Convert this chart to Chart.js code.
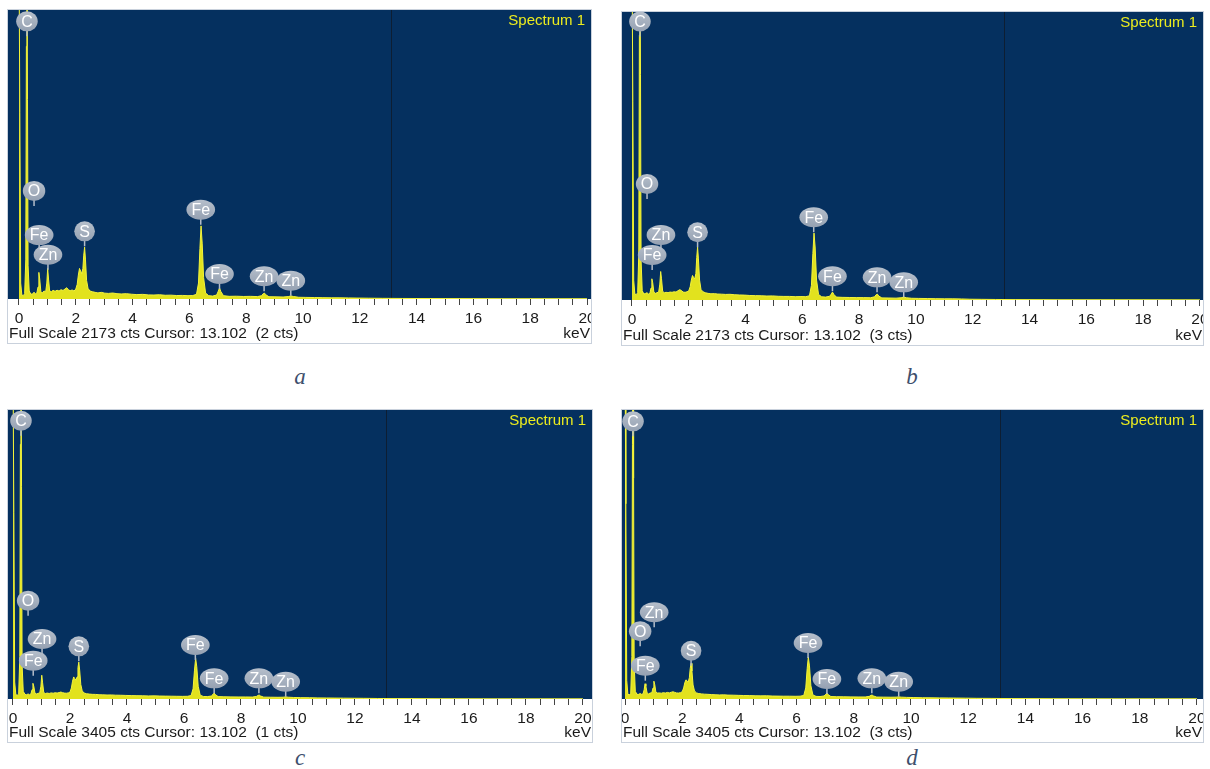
<!DOCTYPE html>
<html>
<head>
<meta charset="utf-8">
<script src="https://cdn.jsdelivr.net/npm/chart.js@4.4.1/dist/chart.umd.min.js"></script>
<style>
  body { margin: 0; background: #fff; width: 1210px; height: 769px; position: relative; overflow: hidden; }
  .panel { position: absolute; border: 1px solid #c9d1dc; }
  .panel canvas { display: block; }
  .cap { position: absolute; width: 40px; text-align: center; line-height: 26px;
         font-family: 'Liberation Serif', 'DejaVu Serif', serif; font-style: italic; font-size: 23px; color: #3e4f6d; }
</style>
</head>
<body>
<div class="panel" style="left:7px;top:9px"><canvas id="ca" width="583" height="333"></canvas></div>
<div class="panel" style="left:621px;top:11px"><canvas id="cb" width="581" height="333"></canvas></div>
<div class="panel" style="left:7px;top:409px"><canvas id="cc" width="584" height="332"></canvas></div>
<div class="panel" style="left:621px;top:409px"><canvas id="cd" width="581" height="332"></canvas></div>
<div class="cap" style="left:280px;top:364px">a</div>
<div class="cap" style="left:892px;top:364px">b</div>
<div class="cap" style="left:280px;top:745px">c</div>
<div class="cap" style="left:892px;top:745px">d</div>
<script>
// energy channels (keV), shared by the four spectra
const energyKeV = [
  0.00, 0.03, 0.06, 0.10, 0.15, 0.20, 0.24, 0.26, 0.28, 0.30, 0.32, 0.36, 0.42, 0.48,
  0.53, 0.58, 0.63, 0.67, 0.70, 0.73, 0.77, 0.82, 0.88, 0.94, 0.98, 1.01, 1.04, 1.08, 1.14, 1.20,
  1.27, 1.34, 1.41, 1.48, 1.55, 1.62, 1.68, 1.74, 1.80, 1.87, 1.94, 2.00,
  2.05, 2.09, 2.13, 2.17, 2.21, 2.25, 2.28, 2.31, 2.34, 2.38, 2.43, 2.50, 2.58,
  2.68, 2.78, 2.90, 3.02, 3.15, 3.30, 3.45, 3.60, 3.78, 3.96, 4.15, 4.35, 4.55, 4.75, 4.95, 5.15, 5.35, 5.55, 5.75, 5.95, 6.12,
  6.25, 6.32, 6.37, 6.41, 6.45, 6.50, 6.57, 6.68,
  6.82, 6.96, 7.02, 7.06, 7.11, 7.20, 7.40, 7.65, 7.90, 8.15, 8.40,
  8.54, 8.60, 8.64, 8.69, 8.80, 9.05, 9.30,
  9.48, 9.57, 9.66, 9.85, 10.1, 10.4, 10.7, 11.0, 11.3, 11.6, 11.9, 12.3, 12.8, 13.5, 15, 17, 20
];

// counts per channel, spectra a-d
const countsA = [
  2600, 1400, 120, 30, 25, 40, 300, 1900, 2700, 1500, 250, 60, 35, 40,
  50, 40, 45, 90, 200, 150, 55, 45, 60, 55, 120, 230, 150, 60, 55, 65,
  58, 66, 60, 70, 64, 75, 85, 70, 62, 68, 60, 75,
  110, 180, 230, 210, 190, 230, 330, 390, 300, 140, 80, 60, 55,
  50, 46, 50, 44, 42, 45, 40, 38, 40, 36, 33, 35, 31, 30, 32, 28, 29, 26, 27, 25, 26,
  35, 120, 380, 550, 420, 160, 45, 25,
  22, 30, 60, 83, 55, 25, 20, 21, 19, 20, 18,
  25, 40, 45, 32, 17, 16, 15,
  18, 23, 19, 13, 12, 11, 10, 9, 9, 8, 7, 6, 5, 4, 3, 2, 2
];
const countsB = [
  2600, 1500, 150, 45, 40, 55, 350, 2000, 2700, 1700, 300, 70, 45, 50,
  55, 45, 50, 90, 160, 130, 60, 50, 55, 60, 120, 215, 160, 65, 55, 58,
  55, 60, 58, 62, 60, 70, 78, 72, 60, 58, 62, 70,
  100, 150, 185, 170, 160, 200, 320, 400, 310, 150, 80, 62, 55,
  50, 47, 48, 45, 44, 42, 43, 40, 38, 37, 34, 33, 32, 30, 31, 28, 27, 27, 25, 26, 25,
  32, 110, 350, 505, 400, 150, 42, 24,
  22, 28, 45, 60, 42, 22, 20, 19, 18, 18, 17,
  24, 40, 45, 30, 16, 15, 14,
  17, 22, 17, 13, 12, 11, 10, 9, 9, 8, 6, 5, 4, 3, 2, 2, 1
];
const countsC = [
  4000, 2200, 200, 50, 45, 60, 500, 3000, 4200, 2500, 400, 90, 55, 50,
  60, 50, 60, 110, 185, 150, 70, 60, 65, 75, 150, 280, 190, 75, 65, 70,
  65, 72, 68, 74, 70, 76, 82, 75, 70, 68, 72, 80,
  130, 210, 260, 240, 220, 260, 370, 435, 340, 170, 95, 70, 62,
  58, 55, 54, 50, 49, 47, 48, 45, 44, 42, 40, 39, 38, 36, 37, 35, 34, 33, 32, 31, 32,
  40, 120, 340, 480, 380, 150, 45, 30,
  28, 35, 55, 70, 50, 28, 26, 25, 24, 24, 23,
  30, 42, 47, 35, 22, 21, 20,
  21, 25, 21, 18, 16, 15, 13, 12, 11, 10, 9, 8, 6, 5, 3, 2, 2
];
const countsD = [
  4000, 2300, 220, 55, 50, 65, 500, 3000, 4200, 2600, 420, 90, 55, 55,
  65, 55, 60, 110, 180, 150, 75, 60, 70, 75, 130, 210, 170, 80, 70, 72,
  68, 75, 70, 78, 72, 80, 85, 78, 72, 70, 75, 85,
  130, 190, 225, 215, 200, 250, 360, 420, 330, 165, 95, 72, 64,
  60, 57, 55, 52, 50, 48, 49, 46, 45, 43, 41, 40, 38, 37, 38, 35, 34, 33, 33, 32, 33,
  42, 130, 360, 495, 390, 155, 48, 31,
  29, 36, 56, 70, 50, 29, 27, 26, 25, 24, 24,
  31, 43, 47, 36, 23, 22, 21,
  22, 25, 22, 19, 17, 15, 14, 13, 12, 11, 10, 8, 7, 5, 3, 2, 2
];

// peak tags: element, line energy, height of the tag's pin (cts)
const peakNames = ['C', 'O', 'Fe', 'Zn', 'S', 'Fe', 'Fe', 'Zn', 'Zn'];
const peakKeV = [0.28, 0.53, 0.71, 1.02, 2.31, 6.40, 7.06, 8.63, 9.57];
const tagA = [1975, 700, 368, 220, 396, 559, 75, 58, 25];
const tagB = [1988, 762, 226, 378, 398, 511, 66, 58, 20];
const tagC = [3102, 981, 275, 530, 444, 459, 67, 67, 27];
const tagD = [3095, 621, 216, 845, 392, 483, 59, 67, 27];

const tickLabels = [0, 2, 4, 6, 8, 10, 12, 14, 16, 18, 20];
const fullScale = [2173, 2173, 3405, 3405];
const cursorCts = [2, 3, 1, 3];
const cursorKeV = 13.102;

const FONT = '"Liberation Sans", Arial, sans-serif';

const panels = [
  { id: 'ca', counts: countsA, tags: tagA, min: -0.387, max: 20.14, axisH: 44 },
  { id: 'cb', counts: countsB, tags: tagB, min: -0.352, max: 20.11, axisH: 45 },
  { id: 'cc', counts: countsC, tags: tagC, min: -0.175, max: 20.32, axisH: 43 },
  { id: 'cd', counts: countsD, tags: tagD, min: -0.105, max: 20.21, axisH: 43 }
];

const edsPlugin = {
  id: 'eds',
  beforeDraw(chart) {
    const { ctx, chartArea: a } = chart;
    ctx.save();
    ctx.fillStyle = '#fff';
    ctx.fillRect(0, 0, chart.width, chart.height);
    ctx.fillStyle = '#05305f';
    ctx.fillRect(a.left, a.top, a.right - a.left, a.bottom - a.top);
    // cursor
    const cx = Math.round(chart.scales.x.getPixelForValue(cursorKeV)) + 0.5;
    ctx.strokeStyle = '#0d1e33';
    ctx.lineWidth = 1;
    ctx.beginPath();
    ctx.moveTo(cx, a.top);
    ctx.lineTo(cx, a.bottom);
    ctx.stroke();
    ctx.restore();
  },
  afterDraw(chart, args, o) {
    const { ctx, chartArea: a } = chart;
    const xs = chart.scales.x, ys = chart.scales.y;
    ctx.save();
    // peak tags
    ctx.font = '16px ' + FONT;
    ctx.textAlign = 'center';
    ctx.textBaseline = 'middle';
    peakNames.forEach((name, i) => {
      const x = xs.getPixelForValue(peakKeV[i]);
      const yb = ys.getPixelForValue(o.tags[i]);
      const tw = ctx.measureText(name).width;
      const rx = Math.max(tw / 2 + 5, 10), ry = 10;
      const cy = yb - 5 - ry;
      ctx.strokeStyle = '#b4bdc9';
      ctx.lineWidth = 1.5;
      ctx.beginPath();
      ctx.moveTo(x, cy + ry - 1);
      ctx.lineTo(x, yb);
      ctx.stroke();
      const g = ctx.createLinearGradient(0, cy - ry, 0, cy + ry);
      g.addColorStop(0, '#b6bfcb');
      g.addColorStop(1, '#95a1b2');
      ctx.fillStyle = g;
      ctx.beginPath();
      ctx.ellipse(x, cy, rx, ry, 0, 0, Math.PI * 2);
      ctx.fill();
      ctx.fillStyle = '#fff';
      ctx.fillText(name, x, cy + 1);
    });
    // title
    ctx.font = '15px ' + FONT;
    ctx.fillStyle = '#ecec1e';
    ctx.textAlign = 'right';
    ctx.fillText('Spectrum 1', a.right - 6, a.top + 11);
    // status line
    ctx.fillStyle = '#1a1a1a';
    ctx.font = '15.5px ' + FONT;
    ctx.textAlign = 'left';
    const y = chart.height - 9;
    ctx.fillText('Full Scale ' + o.full + ' cts Cursor: ' + cursorKeV.toFixed(3) + '  (' + o.cur + ' cts)', 1, y);
    ctx.textAlign = 'right';
    ctx.fillText('keV', chart.width - 1, y);
    ctx.restore();
  }
};

panels.forEach((p, k) => {
  const ctx = document.getElementById(p.id).getContext('2d');
  new Chart(ctx, {
    type: 'line',
    data: {
      datasets: [{
        data: energyKeV.map((e, i) => ({ x: e, y: p.counts[i] })),
        borderColor: '#f4f43a',
        backgroundColor: '#e2e21e',
        borderWidth: 1,
        pointRadius: 0,
        tension: 0,
        fill: 'origin'
      }]
    },
    options: {
      responsive: false,
      animation: false,
      events: [],
      layout: { padding: 0 },
      plugins: {
        legend: { display: false },
        tooltip: { enabled: false },
        eds: { tags: p.tags, full: fullScale[k], cur: cursorCts[k] }
      },
      scales: {
        x: {
          type: 'linear',
          min: p.min,
          max: p.max,
          afterBuildTicks: axis => {
            const t = [];
            for (let i = 0; i <= 40; i++) t.push({ value: i * 0.5 });
            axis.ticks = t;
          },
          afterFit: axis => {
            axis.height = p.axisH;
            axis.paddingLeft = 0;
            axis.paddingRight = 0;
          },
          ticks: {
            autoSkip: false,
            maxRotation: 0,
            padding: 4,
            color: '#1a1a1a',
            font: { family: FONT, size: 15.5 },
            callback: v => tickLabels.includes(v) ? String(v) : ''
          },
          grid: { drawOnChartArea: false, drawTicks: true, tickLength: 6, color: '#444', lineWidth: 1 },
          border: { display: false }
        },
        y: { display: false, min: 0, max: fullScale[k] }
      }
    },
    plugins: [edsPlugin]
  });
});
</script>
</body>
</html>
